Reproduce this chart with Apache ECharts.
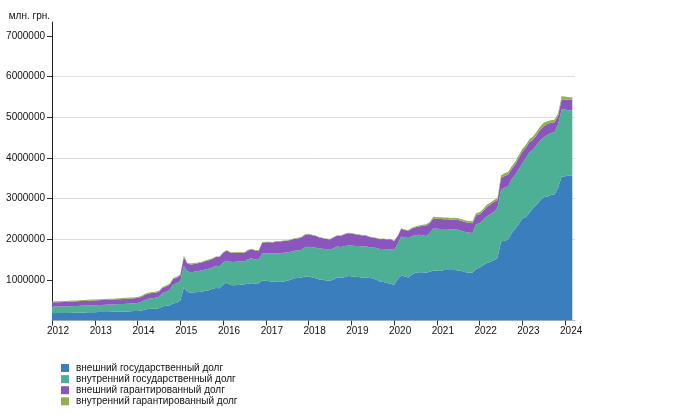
<!DOCTYPE html>
<html>
<head>
<meta charset="utf-8">
<script src="https://cdn.jsdelivr.net/npm/echarts@6/dist/echarts.min.js"></script>
<style>
html,body{margin:0;padding:0;background:#fff;}
#chart{width:700px;height:415px;}
</style>
</head>
<body>
<div id="chart"></div>
<script>
// Month-end values, млн. грн., from 2012-01 to 2024-03
var startYear = 2012, startMonth = 1, monthCount = 147;
var months = [];
for (var k = 0; k < monthCount; k++) {
  var y = startYear + Math.floor((startMonth - 1 + k) / 12);
  var m = (startMonth - 1 + k) % 12 + 1;
  months.push(y + '-' + (m < 10 ? '0' + m : m));
}

var seriesNames = [
  'внешний государственный долг',
  'внутренний государственный долг',
  'внешний гарантированный долг',
  'внутренний гарантированный долг'
];

var externalState = [
  180000,182000,183000,184000,185000,187000,190000,192000,195000,198000,200000,203000,
  205000,207000,208000,210000,212000,213000,215000,217000,220000,224000,228000,232000,
  235000,240000,270000,285000,288000,290000,300000,345000,360000,370000,420000,435000,
  490000,820000,700000,690000,695000,700000,710000,730000,745000,780000,800000,795000,
  880000,935000,875000,870000,875000,880000,892000,905000,915000,910000,915000,985000,
  975000,965000,955000,955000,950000,960000,975000,1000000,1040000,1045000,1055000,1085000,
  1080000,1060000,1040000,1010000,1000000,985000,975000,1010000,1055000,1050000,1065000,1095000,
  1090000,1075000,1070000,1055000,1060000,1045000,1040000,1000000,960000,945000,920000,905000,
  880000,1020000,1110000,1080000,1060000,1130000,1175000,1190000,1185000,1175000,1200000,1228000,
  1225000,1220000,1240000,1245000,1240000,1245000,1230000,1215000,1190000,1180000,1175000,1275000,
  1300000,1360000,1415000,1440000,1485000,1540000,1943000,1965000,1990000,2150000,2250000,2380000,
  2510000,2545000,2650000,2765000,2850000,2960000,3030000,3050000,3090000,3100000,3260000,3540000,
  3550000,3565000,3570000
];

var internalState = [
  165000,163000,162000,163000,165000,166000,166000,167000,168000,168000,170000,172000,
  172000,174000,176000,178000,180000,182000,184000,186000,188000,189000,190000,190000,
  195000,215000,235000,250000,262000,272000,285000,330000,350000,380000,470000,480000,
  480000,520000,505000,500000,505000,515000,520000,525000,530000,525000,545000,540000,
  545000,535000,570000,570000,575000,570000,558000,600000,615000,590000,580000,665000,
  680000,690000,700000,700000,705000,705000,700000,690000,675000,680000,685000,710000,
  735000,740000,750000,760000,765000,765000,765000,770000,765000,760000,760000,750000,
  755000,760000,760000,765000,765000,760000,755000,785000,800000,815000,830000,850000,
  860000,860000,955000,960000,970000,950000,925000,920000,910000,905000,950000,1035000,
  1030000,1030000,1010000,1005000,1000000,995000,1000000,990000,985000,985000,980000,1090000,
  1090000,1110000,1150000,1170000,1190000,1230000,1274000,1300000,1310000,1330000,1330000,1340000,
  1360000,1460000,1490000,1440000,1470000,1470000,1470000,1520000,1525000,1530000,1560000,1650000,
  1640000,1600000,1595000
];

var externalGuaranteed = [
  105000,106000,106000,107000,108000,110000,112000,113000,114000,115000,116000,117000,
  117000,118000,118000,119000,119000,120000,121000,121000,122000,122000,123000,123000,
  124000,126000,125000,125000,125000,123000,122000,125000,125000,128000,130000,135000,
  140000,225000,190000,190000,192000,195000,198000,202000,205000,210000,215000,225000,
  235000,245000,225000,222000,220000,218000,215000,218000,222000,220000,222000,265000,
  270000,268000,265000,290000,290000,290000,288000,290000,295000,295000,305000,310000,
  305000,300000,290000,270000,260000,255000,255000,262000,265000,270000,290000,300000,
  295000,290000,280000,270000,265000,250000,245000,240000,240000,245000,245000,245000,
  215000,195000,195000,185000,180000,185000,195000,205000,235000,255000,240000,250000,
  248000,245000,242000,240000,238000,240000,240000,242000,240000,240000,240000,225000,
  225000,225000,230000,235000,240000,190000,288000,290000,290000,250000,260000,280000,
  285000,250000,250000,245000,245000,260000,280000,265000,250000,245000,205000,245000,
  245000,270000,270000
];

var internalGuaranteed = [
  20000,20000,20000,21000,21000,21000,22000,22000,22000,22000,22000,22000,
  22000,22000,22000,22000,22000,23000,23000,23000,23000,23000,23000,23000,
  23000,23000,24000,24000,24000,25000,25000,25000,25000,25000,25000,25000,
  23000,25000,20000,20000,20000,20000,20000,18000,18000,18000,17000,17000,
  17000,17000,15000,15000,15000,15000,15000,15000,15000,15000,15000,14000,
  14000,14000,14000,14000,14000,14000,14000,14000,14000,14000,14000,14000,
  12000,12000,12000,12000,12000,12000,12000,12000,12000,12000,12000,12000,
  12000,12000,12000,12000,12000,10000,10000,10000,10000,10000,10000,10000,
  10000,10000,10000,12000,14000,16000,18000,22000,26000,30000,34000,40000,
  42000,45000,45000,45000,45000,45000,45000,45000,45000,45000,45000,50000,
  50000,50000,50000,50000,50000,50000,65000,65000,65000,65000,65000,70000,
  70000,72000,75000,75000,78000,80000,85000,66000,60000,65000,70000,80000,
  75000,60000,57000
];

var yearTicks = [2012,2013,2014,2015,2016,2017,2018,2019,2020,2021,2022,2023,2024];
var valueTicks = [1000000,2000000,3000000,4000000,5000000,6000000,7000000];
var colors = ['#3a7ebd', '#4daf93', '#8a55bc', '#8db24a'];
var allValues = [externalState, internalState, externalGuaranteed, internalGuaranteed];

function toYear(s) {
  var p = s.split('-');
  return Number(p[0]) + (Number(p[1]) - 1) / 12;
}

var font = "'Liberation Sans', Arial, sans-serif";
var chart = echarts.init(document.getElementById('chart'), null, {renderer: 'canvas'});
var option = {
  animation: false,
  textStyle: {fontFamily: font},
  grid: {left: 52, right: 125, top: 22, bottom: 94.5, containLabel: false},
  legend: {
    orient: 'vertical', left: 61, top: 363, padding: 0,
    itemWidth: 8, itemHeight: 8, itemGap: 1.1, icon: 'rect',
    textStyle: {fontSize: 10, color: '#111', fontFamily: font, lineHeight: 10, padding: [0, 0, 0, 2]},
    data: seriesNames
  },
  xAxis: {
    type: 'value', min: 2012, max: 2024.23, interval: 1,
    axisLine: {show: true, lineStyle: {color: '#bbb', width: 1}},
    axisTick: {show: true, length: 5, customValues: yearTicks, lineStyle: {color: '#333'}},
    axisLabel: {customValues: yearTicks, fontSize: 10, color: '#111', margin: 6, padding: [0, 0, 0, 12],
      formatter: function (v) { return String(Math.round(v)); }},
    splitLine: {show: false}
  },
  yAxis: {
    type: 'value', min: 0, max: 7344000, interval: 1000000,
    name: 'млн. грн.', nameLocation: 'end', nameGap: 1,
    nameTextStyle: {fontSize: 10, color: '#111', align: 'right', padding: [0, 2, 0, 0]},
    axisLine: {show: true, lineStyle: {color: '#222', width: 1}},
    axisTick: {show: true, length: 5, customValues: valueTicks, lineStyle: {color: '#333'}},
    axisLabel: {customValues: valueTicks, fontSize: 10, color: '#111', margin: 7,
      formatter: function (v) { return String(v); }},
    splitLine: {show: true, showMaxLine: false, showMinLine: false, lineStyle: {color: '#ddd', width: 1}}
  },
  series: seriesNames.map(function (name, si) {
    return {
      name: name, type: 'line', stack: 'debt', symbol: 'none', showSymbol: false,
      encode: {x: 1, y: 0},
      lineStyle: {width: 0, color: colors[si]},
      itemStyle: {color: colors[si]},
      areaStyle: {color: colors[si], opacity: 1},
      data: months.map(function (mo, i) { return [allValues[si][i], toYear(mo)]; })
    };
  })
};
chart.setOption(option);
</script>
</body>
</html>
